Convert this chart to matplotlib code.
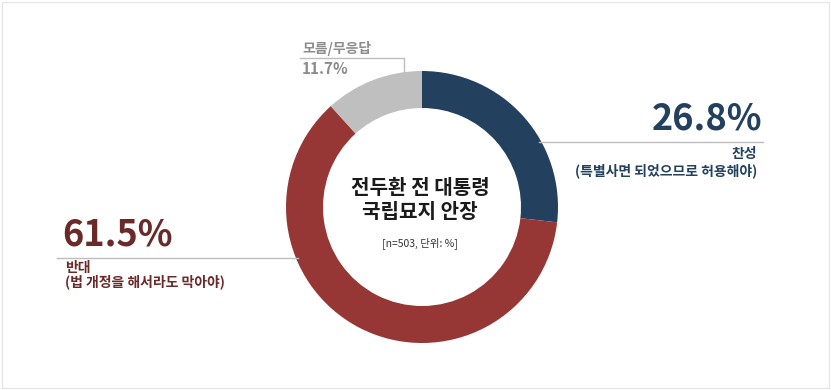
import numpy as np
import matplotlib.pyplot as plt

plt.rcParams['font.family'] = ['Noto Sans CJK KR', 'DejaVu Sans']

# Data
labels = ['찬성', '반대', '모름/무응답']
subtitles = ['(특별사면 되었으므로 허용해야)', '(법 개정을 해서라도 막아야)', '']
values = [26.8, 61.5, 11.7]
colors = ['#23405F', '#963735', '#BFBFBF']
text_colors = ['#23405F', '#6A2A28', '#8C8C8C']
title_lines = ['전두환 전 대통령', '국립묘지 안장']
note = '[n=503, 단위: %]'

W, H = 831, 390
fig = plt.figure(figsize=(W / 100, H / 100), dpi=100)
ax = fig.add_axes([0, 0, 1, 1])

cx, cy = 422, H - 207
R, ring = 136, 37

ax.pie(values, colors=colors, startangle=90, counterclock=False,
       radius=R, center=(cx, cy), frame=True,
       wedgeprops=dict(width=ring, linewidth=0))
ax.set_xlim(0, W)
ax.set_ylim(0, H)
ax.set_aspect('equal')
ax.axis('off')


def ring_x(y, side):
    dy = y - cy
    return cx + side * np.sqrt(R ** 2 - dy ** 2)


line_c = '#BDBDBD'

# 찬성 (right)
yl = H - 142
ax.plot([ring_x(yl, 1) - 2, 763], [yl, yl], color=line_c, lw=1)
ax.text(762, yl + 4, f'{values[0]}%', ha='right', va='bottom', fontsize=26,
        fontweight='semibold', color=text_colors[0])
ax.text(757, yl - 5, labels[0], ha='right', va='top', fontsize=10,
        fontweight='bold', color=text_colors[0])
ax.text(757, yl - 21, subtitles[0], ha='right', va='top', fontsize=10,
        fontweight='bold', color=text_colors[0])

# 반대 (left)
yl = H - 258
ax.plot([57, ring_x(yl, -1) + 2], [yl, yl], color=line_c, lw=1)
ax.text(62, yl + 4, f'{values[1]}%', ha='left', va='bottom', fontsize=26,
        fontweight='semibold', color=text_colors[1])
ax.text(65, yl - 3, labels[1], ha='left', va='top', fontsize=10,
        fontweight='bold', color=text_colors[1])
ax.text(65, yl - 16, subtitles[1], ha='left', va='top', fontsize=10,
        fontweight='bold', color=text_colors[1])

# 모름/무응답 (top)
yl = H - 58
xv = 404
ax.plot([300, xv, xv], [yl, yl, cy + np.sqrt(R ** 2 - (xv - cx) ** 2) - 1],
        color=line_c, lw=1)
ax.text(302, yl + 2, labels[2], ha='left', va='bottom', fontsize=10,
        fontweight='bold', color=text_colors[2])
ax.text(302, yl - 3, f'{values[2]}%', ha='left', va='top', fontsize=11,
        fontweight='bold', color=text_colors[2])

# Center title
ax.text(cx - 2, H - 188, title_lines[0], ha='center', va='center',
        fontsize=14.5, fontweight='bold', color='#1A1A1A')
ax.text(cx - 2, H - 211, title_lines[1], ha='center', va='center',
        fontsize=14.5, fontweight='bold', color='#1A1A1A')
ax.text(cx - 2, H - 243, note, ha='center', va='center',
        fontsize=7.5, color='#333333')

# light frame around the image
fig.patches.append(plt.Rectangle((0.002, 0.004), 0.995, 0.992,
                                 transform=fig.transFigure, fill=False,
                                 edgecolor='#E6E6E6', lw=1))

fig.savefig('out.png', dpi=100, facecolor='white')
